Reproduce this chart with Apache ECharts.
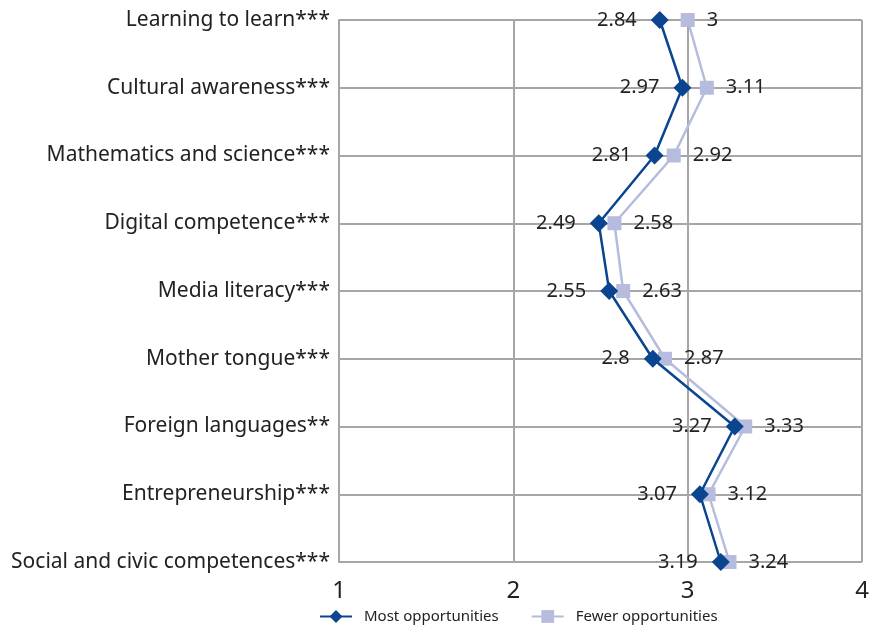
<!DOCTYPE html>
<html>
<head>
<meta charset="utf-8">
<script src="https://cdn.jsdelivr.net/npm/echarts@6/dist/echarts.min.js"></script>
<style>
html, body { margin: 0; padding: 0; background: #fff; }
#main { width: 876px; height: 629px; }
</style>
</head>
<body>
<div id="main"></div>
<script>
var categories = ['Learning to learn***', 'Cultural awareness***', 'Mathematics and science***',
    'Digital competence***', 'Media literacy***', 'Mother tongue***', 'Foreign languages**',
    'Entrepreneurship***', 'Social and civic competences***'];
var mostOpp = [2.84, 2.97, 2.81, 2.49, 2.55, 2.8, 3.27, 3.07, 3.19];
var fewerOpp = [3, 3.11, 2.92, 2.58, 2.63, 2.87, 3.33, 3.12, 3.24];

var font = 'Noto Sans';
var myChart = echarts.init(document.getElementById('main'));
var option = {
    animation: false,
    textStyle: { fontFamily: font },
    grid: { left: 339, right: 14, top: 20, bottom: 67, containLabel: false },
    legend: {
        bottom: 0,
        left: 314,
        itemWidth: 32,
        itemHeight: 16,
        itemGap: 32,
        textStyle: { fontSize: 15, color: '#222', fontFamily: font, padding: [0, 0, 0, 7] },
        data: ['Most opportunities', 'Fewer opportunities']
    },
    xAxis: {
        type: 'value',
        min: 1, max: 4, interval: 1,
        axisLine: { show: false },
        axisTick: { show: false },
        axisLabel: { fontSize: 24, color: '#222', margin: 17 },
        splitLine: { lineStyle: { color: '#a6a6a6', width: 2 } }
    },
    yAxis: {
        type: 'category',
        data: categories,
        inverse: true,
        boundaryGap: false,
        axisLine: { lineStyle: { color: '#a6a6a6', width: 2 } },
        axisTick: { show: false },
        axisLabel: { fontSize: 21, color: '#222', margin: 9, verticalAlign: 'middle', padding: [0, 0, 4, 0] },
        splitLine: { show: true, lineStyle: { color: '#a6a6a6', width: 2 } }
    },
    series: [
        {
            name: 'Fewer opportunities',
            type: 'line',
            data: fewerOpp,
            symbol: 'rect',
            symbolSize: 14,
            itemStyle: { color: '#b6bcde' },
            lineStyle: { color: '#b6bcde', width: 2.5 },
            label: { show: true, position: 'right', distance: 12, fontSize: 20, color: '#222' },
            z: 2
        },
        {
            name: 'Most opportunities',
            type: 'line',
            data: mostOpp,
            symbol: 'diamond',
            symbolSize: 18,
            itemStyle: { color: '#0b4590' },
            lineStyle: { color: '#0b4590', width: 2.5 },
            label: { show: true, position: 'left', distance: 14, fontSize: 20, color: '#222' },
            z: 3
        }
    ]
};
myChart.setOption(option);
</script>
</body>
</html>
